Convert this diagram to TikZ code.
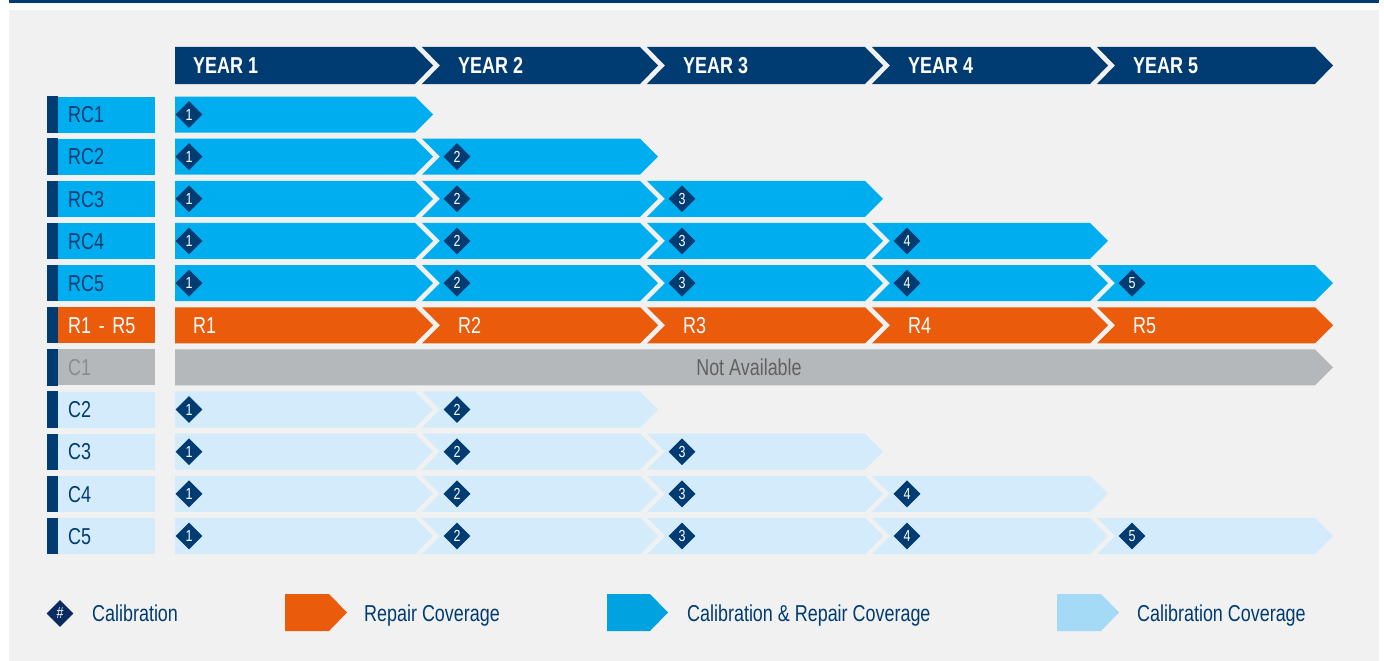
\documentclass[tikz,border=0pt]{standalone}
\usepackage{fontspec}
\setmainfont[FakeStretch=0.78]{Liberation Sans}
\usepackage{tikz}
\usetikzlibrary{shapes.geometric}

\definecolor{navy}{HTML}{003B71}
\definecolor{panel}{HTML}{F1F1F1}
\definecolor{bright}{HTML}{00AEEF}
\definecolor{repair}{HTML}{EA5B0C}
\definecolor{navail}{HTML}{B5B8BB}
\definecolor{light}{HTML}{D3EBFA}
\definecolor{legblue}{HTML}{00A3E0}
\definecolor{leglight}{HTML}{A5DAF7}
\definecolor{legnavy}{HTML}{0B2A60}

\newcommand\bodyfont{\fontsize{23}{26}\selectfont}
\newcommand\numfont{\fontsize{16}{17}\selectfont}

% colour, segment index, centre y, half height
\newcommand\chevseg[4]{%
  \pgfmathsetmacro\segR{415+225*(#2-1)}%
  \ifnum#2=1\relax
    \fill[#1] (175,#3-#4) -- (\segR,#3-#4) -- (\segR+18,#3) -- (\segR,#3+#4) -- (175,#3+#4) -- cycle;
  \else
    \pgfmathsetmacro\segL{422+225*(#2-2)}%
    \fill[#1] (\segL,#3-#4) -- (\segR,#3-#4) -- (\segR+18,#3) -- (\segR,#3+#4) -- (\segL,#3+#4) -- (\segL+18,#3) -- cycle;
  \fi}

\begin{document}
\begin{tikzpicture}[x=1pt, y=-1pt,
  txt/.style={anchor=west, inner sep=0pt, text height=16.5pt, text depth=0pt, font=\bodyfont},
  hdrtxt/.style={txt, text=white, font=\bodyfont\bfseries},
  rowbox/.style={anchor=west, minimum width=97pt, minimum height=36pt, inner xsep=10pt, inner ysep=0pt,
    text width=77pt, align=left, text height=16.5pt, text depth=0pt, font=\bodyfont},
  calmark/.style={diamond, fill=navy, text=white, inner sep=0pt, minimum size=27pt, font=\numfont}]
\useasboundingbox (0,0) rectangle (1384,661);
\fill[white] (0,0) rectangle (1384,661);
\fill[navy] (9,0) rectangle (1379,3);
\fill[panel] (9,10) rectangle (1379,661);

% header
\foreach \ks in {1,...,5} {
  \chevseg{navy}{\ks}{65.5}{18.5}
  \pgfmathsetmacro\tx{\ks==1 ? 193 : 458+225*(\ks-2)}
  \node[hdrtxt] (year\ks) at (\tx,65.5) {YEAR \ks};
}

% calibration & repair rows
\foreach \nr in {1,...,5} {
  \pgfmathsetmacro\cy{114.5+42.15*(\nr-1)}
  \node[rowbox, fill=bright, text=navy] (lbl-rc\nr) at (58,\cy) {RC\nr};
  \fill[navy] ([xshift=-11pt]lbl-rc\nr.north west) rectangle (lbl-rc\nr.south west);
  \foreach \ks in {1,...,\nr} {
    \chevseg{bright}{\ks}{\cy}{18}
    \pgfmathsetmacro\dx{\ks==1 ? 189 : 457+225*(\ks-2)}
    \node[calmark] (rc\nr-\ks) at (\dx,\cy) {\ks};
  }
}

% repair row
\pgfmathsetmacro\cy{114.5+42.15*5}
\node[rowbox, fill=repair, text=white] (lbl-r) at (58,\cy) {R1 - R5};
\fill[navy] ([xshift=-11pt]lbl-r.north west) rectangle (lbl-r.south west);
\foreach \ks in {1,...,5} {
  \chevseg{repair}{\ks}{\cy}{18}
  \pgfmathsetmacro\tx{\ks==1 ? 193 : 458+225*(\ks-2)}
  \node[txt, text=white] (r\ks) at (\tx,\cy) {R\ks};
}

% C1 not available
\pgfmathsetmacro\cy{114.5+42.15*6}
\node[rowbox, fill=navail, text=black!45] (lbl-c1) at (58,\cy) {C1};
\fill[navy] ([xshift=-11pt]lbl-c1.north west) rectangle (lbl-c1.south west);
\fill[navail] (175,\cy-18) -- (1315,\cy-18) -- (1333,\cy) -- (1315,\cy+18) -- (175,\cy+18) -- cycle;
\node[txt, anchor=center, text=black!62] (na) at (749,\cy) {Not Available};

% calibration rows
\foreach \nr in {2,...,5} {
  \pgfmathsetmacro\cy{114.5+42.15*(\nr+5)}
  \node[rowbox, fill=light, text=navy] (lbl-c\nr) at (58,\cy) {C\nr};
  \fill[navy] ([xshift=-11pt]lbl-c\nr.north west) rectangle (lbl-c\nr.south west);
  \foreach \ks in {1,...,\nr} {
    \chevseg{light}{\ks}{\cy}{18}
    \pgfmathsetmacro\dx{\ks==1 ? 189 : 457+225*(\ks-2)}
    \node[calmark] (c\nr-\ks) at (\dx,\cy) {\ks};
  }
}

% legend
\node[calmark, fill=legnavy] (leg-cal) at (60,613.5) {\#};
\node[txt, text=navy] (leg-cal-txt) at (92,613.5) {Calibration};
\fill[repair] (285,594) -- (329,594) -- (347,612.5) -- (329,631) -- (285,631) -- cycle;
\node[txt, text=navy] (leg-rep-txt) at (364,613.5) {Repair Coverage};
\fill[legblue] (607,594) -- (650,594) -- (668,612.5) -- (650,631) -- (607,631) -- cycle;
\node[txt, text=navy] (leg-both-txt) at (687,613.5) {Calibration \& Repair Coverage};
\fill[leglight] (1057,594) -- (1101,594) -- (1119,612.5) -- (1101,631) -- (1057,631) -- cycle;
\node[txt, text=navy] (leg-calcov-txt) at (1137,613.5) {Calibration Coverage};
\end{tikzpicture}
\end{document}
